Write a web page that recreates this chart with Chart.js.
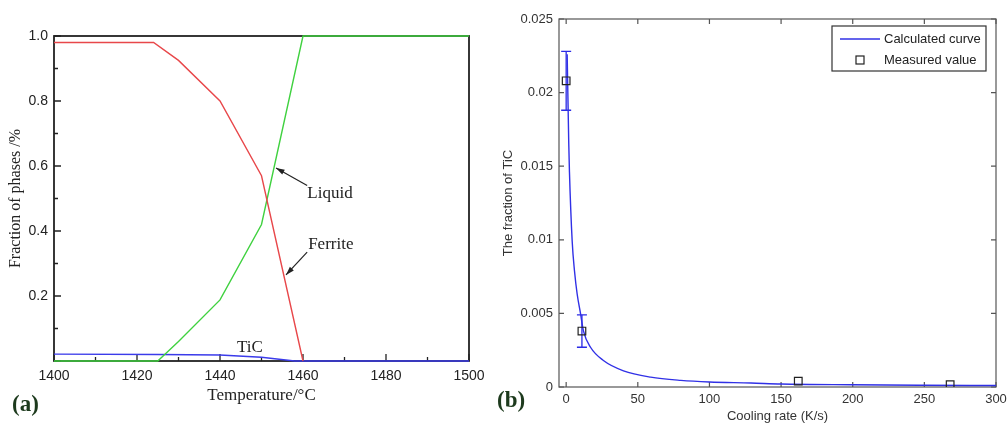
<!DOCTYPE html>
<html>
<head>
<meta charset="utf-8">
<script src="https://cdn.jsdelivr.net/npm/chart.js@4/dist/chart.umd.min.js"></script>
<style>
  html, body { margin: 0; padding: 0; background: #fff; }
  #wrap { position: relative; width: 1007px; height: 426px; overflow: hidden; }
  canvas { position: absolute; top: 0; }
  #chartA { left: 0; }
  #chartB { left: 490px; }
</style>
</head>
<body>
<div id="wrap">
  <canvas id="chartA" width="490" height="426"></canvas>
  <canvas id="chartB" width="517" height="426"></canvas>
</div>
<script>
// ---- panel (a): phase fractions vs temperature ----
const ferriteT = [1400, 1424, 1430, 1440, 1450, 1460];
const ferrite = [0.98, 0.98, 0.925, 0.80, 0.57, 0.0];
const liquidT = [1400, 1425, 1430, 1440, 1450, 1460, 1500];
const liquid = [0, 0, 0.06, 0.188, 0.42, 1.0, 1.0];
const ticT = [1400, 1425, 1440, 1450, 1458, 1500];
const tic = [0.021, 0.02, 0.0185, 0.0115, 0, 0];

const tempTicks = [1400, 1420, 1440, 1460, 1480, 1500];
const tempMinor = [1410, 1430, 1450, 1470, 1490];
const fracTicks = [0, 0.2, 0.4, 0.6, 0.8, 1.0];
const fracMinor = [0.1, 0.3, 0.5, 0.7, 0.9];

// ---- panel (b): TiC fraction vs cooling rate ----
const curveX = [0.7, 1.8, 2.3, 4.2, 5.8, 7.7, 10, 12.1, 17, 26, 40, 59, 80, 100, 129, 150, 200, 250, 300];
const curveY = [0.0226, 0.0166, 0.0146, 0.0099, 0.0079, 0.0063, 0.0050, 0.0038, 0.0027, 0.0018, 0.0011, 0.00067, 0.00045, 0.00034, 0.00027, 0.0002, 0.00015, 0.00012, 0.0001];
const measX = [0, 11, 162, 268];
const measY = [0.0208, 0.0038, 0.0004, 0.00016];
const errLow = [0.0188, 0.0027, null, null];
const errHigh = [0.0228, 0.0049, null, null];

const rateTicks = [0, 50, 100, 150, 200, 250, 300];
const tfTicks = [0, 0.005, 0.01, 0.015, 0.02, 0.025];

const SERIF = '"Liberation Serif", "Times New Roman", serif';
const SANS = '"Liberation Sans", Arial, sans-serif';

const toPts = (xs, ys) => xs.map((x, i) => ({ x: x, y: ys[i] }));
const setTicks = list => s => { s.ticks = list.map(v => ({ value: v })); };
const noPad = s => { s.paddingLeft = 0; s.paddingRight = 0; s.paddingTop = 0; s.paddingBottom = 0; };

function arrow(ctx, x1, y1, x2, y2) {
  const ang = Math.atan2(y2 - y1, x2 - x1);
  ctx.beginPath();
  ctx.moveTo(x1, y1);
  ctx.lineTo(x2, y2);
  ctx.stroke();
  ctx.beginPath();
  ctx.moveTo(x2, y2);
  ctx.lineTo(x2 - 9 * Math.cos(ang - 0.3), y2 - 9 * Math.sin(ang - 0.3));
  ctx.lineTo(x2 - 9 * Math.cos(ang + 0.3), y2 - 9 * Math.sin(ang + 0.3));
  ctx.closePath();
  ctx.fill();
}

// frame, inward ticks and labels for (a)
const decorA = {
  id: 'decorA',
  beforeDatasetsDraw(chart) {
    const { ctx, chartArea: a, scales: { x, y } } = chart;
    ctx.save();
    ctx.strokeStyle = '#222';
    ctx.lineWidth = 1.8;
    ctx.strokeRect(a.left, a.top, a.right - a.left, a.bottom - a.top);
    ctx.lineWidth = 1.3;
    ctx.beginPath();
    tempTicks.forEach(v => { const p = x.getPixelForValue(v); ctx.moveTo(p, a.bottom); ctx.lineTo(p, a.bottom - 7); });
    tempMinor.forEach(v => { const p = x.getPixelForValue(v); ctx.moveTo(p, a.bottom); ctx.lineTo(p, a.bottom - 4); });
    fracTicks.forEach(v => { const p = y.getPixelForValue(v); ctx.moveTo(a.left, p); ctx.lineTo(a.left + 7, p); });
    fracMinor.forEach(v => { const p = y.getPixelForValue(v); ctx.moveTo(a.left, p); ctx.lineTo(a.left + 4, p); });
    ctx.stroke();
    ctx.restore();
  },
  afterDatasetsDraw(chart) {
    const { ctx, scales: { x, y } } = chart;
    const px = v => x.getPixelForValue(v);
    const py = v => y.getPixelForValue(v);
    ctx.save();
    ctx.fillStyle = '#222';
    ctx.strokeStyle = '#222';
    ctx.lineWidth = 1.2;
    ctx.font = '17px ' + SERIF;
    ctx.textAlign = 'center';
    ctx.textBaseline = 'middle';
    ctx.fillText('Liquid', px(1466.5), py(0.514));
    ctx.fillText('Ferrite', px(1466.7), py(0.357));
    ctx.fillText('TiC', px(1447.2), py(0.042));
    arrow(ctx, px(1461), py(0.54), px(1453.5), py(0.594));
    arrow(ctx, px(1461), py(0.335), px(1455.9), py(0.265));
    ctx.fillStyle = '#1d3a1d';
    ctx.font = 'bold 23px ' + SERIF;
    ctx.textAlign = 'left';
    ctx.fillText('(a)', 12, 405);
    ctx.restore();
  }
};

new Chart(document.getElementById('chartA'), {
  type: 'line',
  data: {
    datasets: [
      { label: 'Ferrite', data: toPts(ferriteT, ferrite), borderColor: '#e8474a' },
      { label: 'Liquid', data: toPts(liquidT, liquid), borderColor: '#3fd13f' },
      { label: 'TiC', data: toPts(ticT, tic), borderColor: '#3b3bea' }
    ]
  },
  options: {
    responsive: false,
    animation: false,
    layout: { padding: { top: 36, right: 21, left: 0, bottom: 0 } },
    plugins: { legend: { display: false }, tooltip: { enabled: false } },
    elements: { point: { radius: 0 }, line: { borderWidth: 1.4, tension: 0 } },
    datasets: { line: { clip: 4 } },
    scales: {
      x: {
        type: 'linear', min: 1400, max: 1500,
        afterBuildTicks: setTicks(tempTicks),
        afterFit: s => { s.height = 65; noPad(s); },
        grid: { display: false, drawTicks: false },
        border: { display: false },
        ticks: { padding: 7, color: '#222', font: { family: SANS, size: 14 }, callback: v => String(v) },
        title: { display: true, text: 'Temperature/°C', color: '#222', font: { family: SERIF, size: 17 }, padding: { top: 0, bottom: 20 } }
      },
      y: {
        type: 'linear', min: 0, max: 1,
        afterBuildTicks: setTicks(fracTicks),
        afterFit: s => { s.width = 54; noPad(s); },
        grid: { display: false, drawTicks: false },
        border: { display: false },
        ticks: { padding: 6, color: '#222', font: { family: SANS, size: 14 }, callback: v => v === 0 ? '' : v.toFixed(1) },
        title: { display: true, text: 'Fraction of phases /%', color: '#222', font: { family: SERIF, size: 16 }, padding: { top: 6, bottom: 0 } }
      }
    }
  },
  plugins: [decorA]
});

// box, ticks on all sides, error bars, legend for (b)
const decorB = {
  id: 'decorB',
  beforeDatasetsDraw(chart) {
    const { ctx, chartArea: a, scales: { x, y } } = chart;
    ctx.save();
    ctx.strokeStyle = '#555';
    ctx.lineWidth = 1.2;
    ctx.strokeRect(a.left, a.top, a.right - a.left, a.bottom - a.top);
    ctx.beginPath();
    rateTicks.forEach(v => {
      const p = x.getPixelForValue(v);
      ctx.moveTo(p, a.bottom); ctx.lineTo(p, a.bottom - 5);
      ctx.moveTo(p, a.top); ctx.lineTo(p, a.top + 5);
    });
    tfTicks.forEach(v => {
      const p = y.getPixelForValue(v);
      ctx.moveTo(a.left, p); ctx.lineTo(a.left + 5, p);
      ctx.moveTo(a.right, p); ctx.lineTo(a.right - 5, p);
    });
    ctx.stroke();
    // error bars
    ctx.strokeStyle = '#2b2be6';
    ctx.lineWidth = 1.3;
    ctx.beginPath();
    measX.forEach((v, i) => {
      if (errLow[i] === null) return;
      const p = x.getPixelForValue(v);
      const lo = y.getPixelForValue(errLow[i]);
      const hi = y.getPixelForValue(errHigh[i]);
      ctx.moveTo(p, lo); ctx.lineTo(p, hi);
      ctx.moveTo(p - 5, lo); ctx.lineTo(p + 5, lo);
      ctx.moveTo(p - 5, hi); ctx.lineTo(p + 5, hi);
    });
    ctx.stroke();
    ctx.restore();
  },
  afterDatasetsDraw(chart) {
    const { ctx, chartArea: a } = chart;
    ctx.save();
    const w = 154, h = 45;
    const bl = a.right - 10 - w, bt = a.top + 7;
    ctx.fillStyle = '#fff';
    ctx.fillRect(bl, bt, w, h);
    ctx.strokeStyle = '#333';
    ctx.lineWidth = 1.2;
    ctx.strokeRect(bl, bt, w, h);
    ctx.strokeStyle = '#3030e6';
    ctx.lineWidth = 1.3;
    ctx.beginPath();
    ctx.moveTo(bl + 8, bt + 13); ctx.lineTo(bl + 48, bt + 13);
    ctx.stroke();
    ctx.strokeStyle = '#222';
    ctx.lineWidth = 1.2;
    ctx.strokeRect(bl + 24, bt + 30, 8, 8);
    ctx.fillStyle = '#222';
    ctx.font = '13px ' + SANS;
    ctx.textAlign = 'left';
    ctx.textBaseline = 'middle';
    ctx.fillText('Calculated curve', bl + 52, bt + 13);
    ctx.fillText('Measured value', bl + 52, bt + 34);
    ctx.fillStyle = '#1d3a1d';
    ctx.font = 'bold 23px ' + SERIF;
    ctx.fillText('(b)', 7, 401);
    ctx.restore();
  }
};

new Chart(document.getElementById('chartB'), {
  type: 'scatter',
  data: {
    datasets: [
      {
        label: 'Measured value', data: toPts(measX, measY),
        pointStyle: 'rect', pointRadius: 5.4, borderColor: '#222', borderWidth: 1.2,
        backgroundColor: 'rgba(0,0,0,0)', showLine: false
      },
      {
        label: 'Calculated curve', data: toPts(curveX, curveY),
        showLine: true, borderColor: '#3030e6', borderWidth: 1.4, pointRadius: 0,
        cubicInterpolationMode: 'monotone'
      }
    ]
  },
  options: {
    responsive: false,
    animation: false,
    layout: { padding: { top: 19, right: 11, left: 0, bottom: 0 } },
    plugins: { legend: { display: false }, tooltip: { enabled: false } },
    scales: {
      x: {
        type: 'linear', min: -5, max: 300,
        afterBuildTicks: setTicks(rateTicks),
        afterFit: s => { s.height = 39; noPad(s); },
        grid: { display: false, drawTicks: false },
        border: { display: false },
        ticks: { padding: 5, color: '#333', font: { family: SANS, size: 13 } },
        title: { display: true, text: 'Cooling rate (K/s)', color: '#333', font: { family: SANS, size: 13 }, padding: { top: 0, bottom: 1.5 } }
      },
      y: {
        type: 'linear', min: 0, max: 0.025,
        afterBuildTicks: setTicks(tfTicks),
        afterFit: s => { s.width = 69; noPad(s); },
        grid: { display: false, drawTicks: false },
        border: { display: false },
        ticks: { padding: 6, color: '#333', font: { family: SANS, size: 13 }, callback: v => String(Number(v.toFixed(3))) },
        title: { display: true, text: 'The fraction of TiC', color: '#333', font: { family: SANS, size: 13 }, padding: { top: 10.5, bottom: 0 } }
      }
    }
  },
  plugins: [decorB]
});
</script>
</body>
</html>
